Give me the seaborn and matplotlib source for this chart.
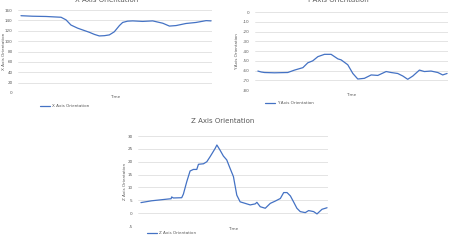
import matplotlib
matplotlib.use("Agg")
import matplotlib.pyplot as plt
import seaborn as sns
import pandas as pd

# readings (time in % of recording)
x_time = [0, 6.1, 13.2, 21.1, 23.7, 26.3, 29.8, 32.5, 36.0, 38.6, 41.2, 43.9, 46.5,
          49.1, 51.8, 53.5, 56.1, 58.8, 64.0, 69.3, 74.6, 78.1, 81.6, 86.8, 92.1, 97.4, 100]
x_vals = [149, 148, 147.5, 146, 141, 131, 125, 121.5, 117, 113, 110, 110.5, 112,
          118, 130, 136, 138.5, 139, 138, 139, 134.5, 129, 130, 134, 136, 139.5, 139]

y_time = [0, 1.8, 3.5, 8.8, 15.8, 19.4, 23.8, 26.4, 29.0, 31.7, 35.2, 38.7, 42.3, 44.0,
          47.5, 50.2, 52.8, 56.3, 59.9, 63.4, 67.8, 70.4, 73.9, 76.6, 79.2, 81.9, 85.4,
          88.0, 91.5, 95.1, 97.7, 100]
y_vals = [-60.5, -61.5, -62, -62.3, -62, -59.5, -57, -52, -50, -45.7, -43.3, -43.3, -48, -49,
          -54, -63, -68.7, -68, -64.5, -65, -61, -62, -63, -65.6, -69, -65.6, -59.5,
          -61, -60.5, -62, -64.5, -63]

z_time = [0, 5.7, 14.7, 16.2, 16.5, 17.4, 21.9, 22.8, 24.6, 26.4, 28.2, 30.0, 30.9, 33.6,
          35.4, 37.2, 39.9, 40.8, 42.5, 44.3, 46.1, 47.9, 49.7, 51.5, 53.3, 56.0, 58.7,
          61.4, 62.3, 64.1, 66.8, 69.5, 72.2, 74.9, 76.7, 78.5, 80.3, 82.0, 83.8, 85.6,
          88.3, 90.1, 92.8, 94.6, 97.3, 100]
z_vals = [4.1, 4.8, 5.5, 5.6, 6.3, 5.9, 6.0, 7.4, 12.2, 16.4, 17.0, 17.0, 19.0, 19.2,
          20.0, 22.0, 25.2, 26.5, 24.5, 22.2, 20.7, 17.4, 14.2, 7.0, 4.4, 3.8, 3.2,
          3.6, 4.2, 2.5, 1.9, 3.8, 4.7, 5.7, 8.0, 8.0, 6.7, 4.4, 1.9, 0.6,
          0.2, 1.0, 0.6, -0.3, 1.5, 2.1]

sns.set_style("white")
plt.rcParams['font.family'] = ['DejaVu Sans']

blue = "#4472C4"
grey = "#595959"

fig = plt.figure(figsize=(4.53, 2.5), dpi=100)

charts = [
    # name, time, values, ticks, axes rect, title pos, ylabel x, time label y, legend pos
    ("X", x_time, x_vals, list(range(0, 161, 20)), (0, 160),
     [0.040, 0.628, 0.428, 0.332], (0.235, 1.0), 0.008, 0.612, (0.088, 0.576)),
    ("Y", y_time, y_vals, list(range(-80, 1, 10)), (-80, 0),
     [0.563, 0.640, 0.426, 0.311], (0.745, 1.0), 0.523, 0.620, (0.585, 0.588)),
    ("Z", z_time, z_vals, list(range(-5, 31, 5)), (-5, 30),
     [0.305, 0.096, 0.419, 0.360], (0.492, 0.516), 0.276, 0.084, (0.325, 0.068)),
]

for name, t, v, ticks, ylim, rect, tpos, ylx, tly, lpos in charts:
    ax = fig.add_axes(rect)
    df = pd.DataFrame({"Time": t, "val": v})
    sns.lineplot(data=df, x="Time", y="val", ax=ax, color=blue, linewidth=0.9)
    ax.set_xlim(-1.5, 100.5)
    ax.set_ylim(*ylim)
    ax.set_yticks(ticks)
    ax.set_yticklabels([str(k) for k in ticks], fontsize=3, color=grey)
    ax.set_xticks([])
    ax.tick_params(axis="y", length=0, pad=4)
    ax.grid(axis="y", color="#d9d9d9", linewidth=0.5)
    for s in ax.spines.values():
        s.set_visible(False)
    ax.set_xlabel("")
    ax.set_ylabel("")
    fig.text(tpos[0], tpos[1], f"{name} Axis Orientation", fontsize=5, color=grey,
             ha="center", va="center")
    fig.text(ylx, rect[1] + rect[3] / 2, f"{name} Axis Orientation", fontsize=3,
             color=grey, rotation=90, ha="center", va="center")
    fig.text(rect[0] + rect[2] / 2, tly, "Time", fontsize=3, color=grey,
             ha="center", va="center")
    fig.lines.append(plt.Line2D([lpos[0], lpos[0] + 0.022], [lpos[1], lpos[1]],
                                transform=fig.transFigure, color=blue, linewidth=0.9))
    fig.text(lpos[0] + 0.026, lpos[1], f"{name} Axis Orientation", fontsize=3,
             color=grey, ha="left", va="center")

fig.savefig("out.png", dpi=100)
